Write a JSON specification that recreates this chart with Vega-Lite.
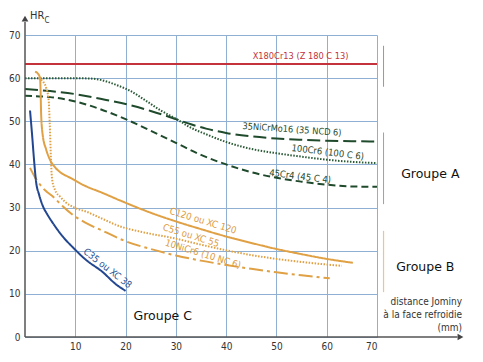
{
  "$schema": "https://vega.github.io/schema/vega-lite/v6.json",
  "width": 352,
  "height": 302,
  "autosize": {"type": "none"},
  "padding": {"left": 25, "top": 35, "right": 106, "bottom": 25},
  "background": "white",
  "config": {
    "view": {"stroke": null},
    "axis": {"labelFont": "DejaVu Sans Condensed, sans-serif", "labelFontSize": 10, "labelColor": "#333333", "grid": true, "gridColor": "#8fb0d2", "gridWidth": 1, "gridOpacity": 1, "domain": false, "ticks": false, "title": null}
  },
  "layer": [
    {
      "data": {"values": [
        {"steel": "X180Cr13", "d": 0, "hrc": 63.3}, {"steel": "X180Cr13", "d": 70, "hrc": 63.3},
        {"steel": "35NiCrMo16", "d": 0, "hrc": 57.5}, {"steel": "35NiCrMo16", "d": 5, "hrc": 57}, {"steel": "35NiCrMo16", "d": 10, "hrc": 56.3}, {"steel": "35NiCrMo16", "d": 15, "hrc": 55.2}, {"steel": "35NiCrMo16", "d": 20, "hrc": 54}, {"steel": "35NiCrMo16", "d": 25, "hrc": 52.4}, {"steel": "35NiCrMo16", "d": 28, "hrc": 51.3}, {"steel": "35NiCrMo16", "d": 30, "hrc": 50.5}, {"steel": "35NiCrMo16", "d": 33, "hrc": 49.3}, {"steel": "35NiCrMo16", "d": 36, "hrc": 48.3}, {"steel": "35NiCrMo16", "d": 40, "hrc": 47.3}, {"steel": "35NiCrMo16", "d": 45, "hrc": 46.5}, {"steel": "35NiCrMo16", "d": 50, "hrc": 46}, {"steel": "35NiCrMo16", "d": 55, "hrc": 45.7}, {"steel": "35NiCrMo16", "d": 60, "hrc": 45.5}, {"steel": "35NiCrMo16", "d": 65, "hrc": 45.4}, {"steel": "35NiCrMo16", "d": 70, "hrc": 45.3},
        {"steel": "100Cr6", "d": 0, "hrc": 60}, {"steel": "100Cr6", "d": 5, "hrc": 60}, {"steel": "100Cr6", "d": 10, "hrc": 60}, {"steel": "100Cr6", "d": 13, "hrc": 59.9}, {"steel": "100Cr6", "d": 15, "hrc": 59.6}, {"steel": "100Cr6", "d": 18, "hrc": 58.5}, {"steel": "100Cr6", "d": 21, "hrc": 57}, {"steel": "100Cr6", "d": 24, "hrc": 54.8}, {"steel": "100Cr6", "d": 27, "hrc": 52.5}, {"steel": "100Cr6", "d": 30, "hrc": 50.6}, {"steel": "100Cr6", "d": 33, "hrc": 48.5}, {"steel": "100Cr6", "d": 36, "hrc": 47}, {"steel": "100Cr6", "d": 40, "hrc": 45.2}, {"steel": "100Cr6", "d": 45, "hrc": 43.6}, {"steel": "100Cr6", "d": 50, "hrc": 42.6}, {"steel": "100Cr6", "d": 55, "hrc": 41.8}, {"steel": "100Cr6", "d": 60, "hrc": 41.1}, {"steel": "100Cr6", "d": 65, "hrc": 40.6}, {"steel": "100Cr6", "d": 70, "hrc": 40.3},
        {"steel": "45Cr4", "d": 0, "hrc": 55.9}, {"steel": "45Cr4", "d": 5, "hrc": 55.6}, {"steel": "45Cr4", "d": 10, "hrc": 54.6}, {"steel": "45Cr4", "d": 15, "hrc": 52.8}, {"steel": "45Cr4", "d": 20, "hrc": 50.5}, {"steel": "45Cr4", "d": 25, "hrc": 47.8}, {"steel": "45Cr4", "d": 30, "hrc": 45}, {"steel": "45Cr4", "d": 35, "hrc": 42.2}, {"steel": "45Cr4", "d": 40, "hrc": 40}, {"steel": "45Cr4", "d": 45, "hrc": 38.2}, {"steel": "45Cr4", "d": 50, "hrc": 36.9}, {"steel": "45Cr4", "d": 55, "hrc": 36}, {"steel": "45Cr4", "d": 60, "hrc": 35.3}, {"steel": "45Cr4", "d": 65, "hrc": 34.9}, {"steel": "45Cr4", "d": 70, "hrc": 34.8},
        {"steel": "C120", "d": 2, "hrc": 61.5}, {"steel": "C120", "d": 2.6, "hrc": 61}, {"steel": "C120", "d": 3, "hrc": 60}, {"steel": "C120", "d": 3.1, "hrc": 57}, {"steel": "C120", "d": 3.2, "hrc": 52}, {"steel": "C120", "d": 3.5, "hrc": 47}, {"steel": "C120", "d": 4.2, "hrc": 43.5}, {"steel": "C120", "d": 5, "hrc": 41}, {"steel": "C120", "d": 6, "hrc": 39.3}, {"steel": "C120", "d": 7, "hrc": 38.2}, {"steel": "C120", "d": 9, "hrc": 36.9}, {"steel": "C120", "d": 12, "hrc": 35}, {"steel": "C120", "d": 15, "hrc": 33.6}, {"steel": "C120", "d": 19, "hrc": 31.6}, {"steel": "C120", "d": 25, "hrc": 28.8}, {"steel": "C120", "d": 30, "hrc": 26.8}, {"steel": "C120", "d": 35, "hrc": 25}, {"steel": "C120", "d": 40, "hrc": 23.3}, {"steel": "C120", "d": 45, "hrc": 21.8}, {"steel": "C120", "d": 50, "hrc": 20.4}, {"steel": "C120", "d": 55, "hrc": 19.2}, {"steel": "C120", "d": 60, "hrc": 18.1}, {"steel": "C120", "d": 65.2, "hrc": 17.2},
        {"steel": "C55", "d": 2.7, "hrc": 60}, {"steel": "C55", "d": 3.5, "hrc": 59.3}, {"steel": "C55", "d": 4.2, "hrc": 57.8}, {"steel": "C55", "d": 4.7, "hrc": 55}, {"steel": "C55", "d": 4.9, "hrc": 50}, {"steel": "C55", "d": 5.05, "hrc": 45}, {"steel": "C55", "d": 5.2, "hrc": 40}, {"steel": "C55", "d": 5.4, "hrc": 36.5}, {"steel": "C55", "d": 6, "hrc": 34}, {"steel": "C55", "d": 7, "hrc": 32.5}, {"steel": "C55", "d": 8, "hrc": 31.3}, {"steel": "C55", "d": 10, "hrc": 29.9}, {"steel": "C55", "d": 12.3, "hrc": 29}, {"steel": "C55", "d": 15, "hrc": 27.6}, {"steel": "C55", "d": 19, "hrc": 25.6}, {"steel": "C55", "d": 23, "hrc": 24.4}, {"steel": "C55", "d": 30, "hrc": 22.8}, {"steel": "C55", "d": 35, "hrc": 21.4}, {"steel": "C55", "d": 40, "hrc": 20.1}, {"steel": "C55", "d": 45, "hrc": 19}, {"steel": "C55", "d": 50, "hrc": 18.1}, {"steel": "C55", "d": 55, "hrc": 17.4}, {"steel": "C55", "d": 60, "hrc": 16.8}, {"steel": "C55", "d": 63, "hrc": 16.5},
        {"steel": "10NiCr6", "d": 1, "hrc": 39.2}, {"steel": "10NiCr6", "d": 2, "hrc": 37}, {"steel": "10NiCr6", "d": 3, "hrc": 35.3}, {"steel": "10NiCr6", "d": 4, "hrc": 34}, {"steel": "10NiCr6", "d": 5.6, "hrc": 32.5}, {"steel": "10NiCr6", "d": 7.5, "hrc": 30.3}, {"steel": "10NiCr6", "d": 9.5, "hrc": 28.3}, {"steel": "10NiCr6", "d": 12, "hrc": 26.5}, {"steel": "10NiCr6", "d": 15.5, "hrc": 24.6}, {"steel": "10NiCr6", "d": 20, "hrc": 22.2}, {"steel": "10NiCr6", "d": 25, "hrc": 20.4}, {"steel": "10NiCr6", "d": 30, "hrc": 18.9}, {"steel": "10NiCr6", "d": 35, "hrc": 17.7}, {"steel": "10NiCr6", "d": 40, "hrc": 16.7}, {"steel": "10NiCr6", "d": 45, "hrc": 15.8}, {"steel": "10NiCr6", "d": 50, "hrc": 15}, {"steel": "10NiCr6", "d": 55, "hrc": 14.3}, {"steel": "10NiCr6", "d": 60.6, "hrc": 13.6},
        {"steel": "C35", "d": 1, "hrc": 52.5}, {"steel": "C35", "d": 1.4, "hrc": 47}, {"steel": "C35", "d": 1.8, "hrc": 41}, {"steel": "C35", "d": 2.2, "hrc": 36}, {"steel": "C35", "d": 2.8, "hrc": 33}, {"steel": "C35", "d": 3.5, "hrc": 30.5}, {"steel": "C35", "d": 4.5, "hrc": 28.3}, {"steel": "C35", "d": 5.6, "hrc": 26.3}, {"steel": "C35", "d": 7.5, "hrc": 23.3}, {"steel": "C35", "d": 9.5, "hrc": 20.8}, {"steel": "C35", "d": 12, "hrc": 18}, {"steel": "C35", "d": 15.5, "hrc": 15}, {"steel": "C35", "d": 18, "hrc": 12.3}, {"steel": "C35", "d": 20, "hrc": 10.7}
      ]},
      "mark": {"type": "line", "interpolate": "monotone", "strokeCap": "butt"},
      "encoding": {
        "x": {"field": "d", "type": "quantitative", "scale": {"domain": [0, 70], "nice": false, "zero": false}, "axis": {"values": [10, 20, 30, 40, 50, 60, 70], "labelPadding": 4, "grid": true, "gridColor": "#8fb0d2"}},
        "y": {"field": "hrc", "type": "quantitative", "scale": {"domain": [0, 70], "nice": false}, "axis": {"values": [0, 10, 20, 30, 40, 50, 60, 70], "labelPadding": 5, "grid": true, "gridColor": "#8fb0d2"}},
        "order": {"field": "d", "type": "quantitative"},
        "color": {"field": "steel", "type": "nominal", "legend": null, "scale": {"domain": ["X180Cr13", "35NiCrMo16", "100Cr6", "45Cr4", "C120", "C55", "10NiCr6", "C35"], "range": ["#c4323c", "#1f4a2c", "#2a5a35", "#1f4a2c", "#e0a044", "#e0a044", "#e0a044", "#22468f"]}},
        "strokeDash": {"field": "steel", "type": "nominal", "legend": null, "scale": {"domain": ["X180Cr13", "35NiCrMo16", "100Cr6", "45Cr4", "C120", "C55", "10NiCr6", "C35"], "range": [[1, 0], [13, 5], [1.5, 1.5], [7, 4], [1, 0], [1.5, 1.5], [14, 4, 3, 4], [1, 0]]}},
        "strokeWidth": {"field": "steel", "type": "nominal", "legend": null, "scale": {"domain": ["X180Cr13", "35NiCrMo16", "100Cr6", "45Cr4", "C120", "C55", "10NiCr6", "C35"], "range": [2, 2, 1.6, 2, 1.8, 1.5, 1.8, 1.4]}}
      }
    },
    {
      "data": {"values": [{"x": 0, "x2": 86, "y": 0}]},
      "mark": {"type": "rule", "color": "#555555", "strokeWidth": 1.5},
      "encoding": {"x": {"field": "x", "type": "quantitative"}, "x2": {"field": "x2"}, "y": {"field": "y", "type": "quantitative"}}
    },
    {
      "data": {"values": [{"x": 0, "y": 0, "y2": 73}]},
      "mark": {"type": "rule", "color": "#555555", "strokeWidth": 1.5},
      "encoding": {"x": {"field": "x", "type": "quantitative"}, "y": {"field": "y", "type": "quantitative"}, "y2": {"field": "y2"}}
    },
    {
      "data": {"values": [{"x": 86.6, "y": 0}]},
      "mark": {"type": "point", "shape": "triangle-right", "filled": true, "color": "#444444", "size": 45, "opacity": 1},
      "encoding": {"x": {"field": "x", "type": "quantitative"}, "y": {"field": "y", "type": "quantitative"}}
    },
    {
      "data": {"values": [{"x": 0, "y": 73.8}]},
      "mark": {"type": "point", "shape": "triangle-up", "filled": true, "color": "#444444", "size": 45, "opacity": 1},
      "encoding": {"x": {"field": "x", "type": "quantitative"}, "y": {"field": "y", "type": "quantitative"}}
    },
    {
      "data": {"values": [{"x": 71.3, "y": 58, "y2": 67.5}]},
      "mark": {"type": "rule", "color": "#d47e84", "strokeWidth": 1},
      "encoding": {"x": {"field": "x", "type": "quantitative"}, "y": {"field": "y", "type": "quantitative"}, "y2": {"field": "y2"}}
    },
    {
      "data": {"values": [{"x": 71.3, "y": 30.8, "y2": 47.4}]},
      "mark": {"type": "rule", "color": "#a0a0a0", "strokeWidth": 1},
      "encoding": {"x": {"field": "x", "type": "quantitative"}, "y": {"field": "y", "type": "quantitative"}, "y2": {"field": "y2"}}
    },
    {
      "data": {"values": [{"x": 71.3, "y": 10.4, "y2": 24.6}]},
      "mark": {"type": "rule", "color": "#edc48a", "strokeWidth": 1.2},
      "encoding": {"x": {"field": "x", "type": "quantitative"}, "y": {"field": "y", "type": "quantitative"}, "y2": {"field": "y2"}}
    },
    {
      "data": {"values": [{"t": "X180Cr13 (Z 180 C 13)", "x": 54.8, "y": 65.1}]},
      "mark": {"type": "text", "font": "DejaVu Sans Condensed, sans-serif", "fontSize": 9.2, "color": "#c4323c"},
      "encoding": {"x": {"field": "x", "type": "quantitative"}, "y": {"field": "y", "type": "quantitative"}, "text": {"field": "t"}}
    },
    {
      "data": {"values": [{"t": "35NiCrMo16 (35 NCD 6)", "x": 53.1, "y": 48.1}]},
      "mark": {"type": "text", "font": "DejaVu Sans Condensed, sans-serif", "fontSize": 9.2, "color": "#1f4a2c", "angle": 4},
      "encoding": {"x": {"field": "x", "type": "quantitative"}, "y": {"field": "y", "type": "quantitative"}, "text": {"field": "t"}}
    },
    {
      "data": {"values": [{"t": "100Cr6 (100 C 6)", "x": 60.2, "y": 42.8}]},
      "mark": {"type": "text", "font": "DejaVu Sans Condensed, sans-serif", "fontSize": 9.4, "color": "#1f4a2c", "angle": 7},
      "encoding": {"x": {"field": "x", "type": "quantitative"}, "y": {"field": "y", "type": "quantitative"}, "text": {"field": "t"}}
    },
    {
      "data": {"values": [{"t": "45Cr4 (45 C 4)", "x": 54.7, "y": 37.2}]},
      "mark": {"type": "text", "font": "DejaVu Sans Condensed, sans-serif", "fontSize": 9.4, "color": "#1f4a2c", "angle": 7},
      "encoding": {"x": {"field": "x", "type": "quantitative"}, "y": {"field": "y", "type": "quantitative"}, "text": {"field": "t"}}
    },
    {
      "data": {"values": [{"t": "C120 ou XC 120", "x": 35.4, "y": 26.9}, {"t": "C55 ou XC 55", "x": 33, "y": 23.5}, {"t": "10NiCr6 (10 NC 6)", "x": 35.4, "y": 19.2}]},
      "mark": {"type": "text", "font": "DejaVu Sans Condensed, sans-serif", "fontSize": 9.6, "color": "#dd9a3c", "angle": 17},
      "encoding": {"x": {"field": "x", "type": "quantitative"}, "y": {"field": "y", "type": "quantitative"}, "text": {"field": "t"}}
    },
    {
      "data": {"values": [{"t": "C35 ou XC 38", "x": 16.4, "y": 15.9}]},
      "mark": {"type": "text", "font": "DejaVu Sans Condensed, sans-serif", "fontSize": 9.6, "color": "#2c5596", "angle": 38},
      "encoding": {"x": {"field": "x", "type": "quantitative"}, "y": {"field": "y", "type": "quantitative"}, "text": {"field": "t"}}
    },
    {
      "data": {"values": [{"t": "Groupe A", "x": 80.6, "y": 37.8}, {"t": "Groupe B", "x": 79.6, "y": 16.2}, {"t": "Groupe C", "x": 27.4, "y": 4.9}]},
      "mark": {"type": "text", "font": "DejaVu Sans", "fontSize": 12.5, "color": "#111111"},
      "encoding": {"x": {"field": "x", "type": "quantitative"}, "y": {"field": "y", "type": "quantitative"}, "text": {"field": "t"}}
    },
    {
      "data": {"values": [{"t": "distance Jominy", "x": 86.9, "y": 8.1}, {"t": "à la face refroidie", "x": 86.9, "y": 5.1}, {"t": "(mm)", "x": 86.9, "y": 2.1}]},
      "mark": {"type": "text", "font": "DejaVu Sans Condensed, sans-serif", "fontSize": 10, "color": "#333333", "align": "right"},
      "encoding": {"x": {"field": "x", "type": "quantitative"}, "y": {"field": "y", "type": "quantitative"}, "text": {"field": "t"}}
    },
    {
      "data": {"values": [{"t": "HR", "x": 1, "y": 74.3}]},
      "mark": {"type": "text", "font": "DejaVu Sans Condensed, sans-serif", "fontSize": 11, "color": "#333333", "align": "left"},
      "encoding": {"x": {"field": "x", "type": "quantitative"}, "y": {"field": "y", "type": "quantitative"}, "text": {"field": "t"}}
    },
    {
      "data": {"values": [{"t": "C", "x": 3.9, "y": 73.3}]},
      "mark": {"type": "text", "font": "DejaVu Sans Condensed, sans-serif", "fontSize": 8, "color": "#333333", "align": "left"},
      "encoding": {"x": {"field": "x", "type": "quantitative"}, "y": {"field": "y", "type": "quantitative"}, "text": {"field": "t"}}
    }
  ]
}
